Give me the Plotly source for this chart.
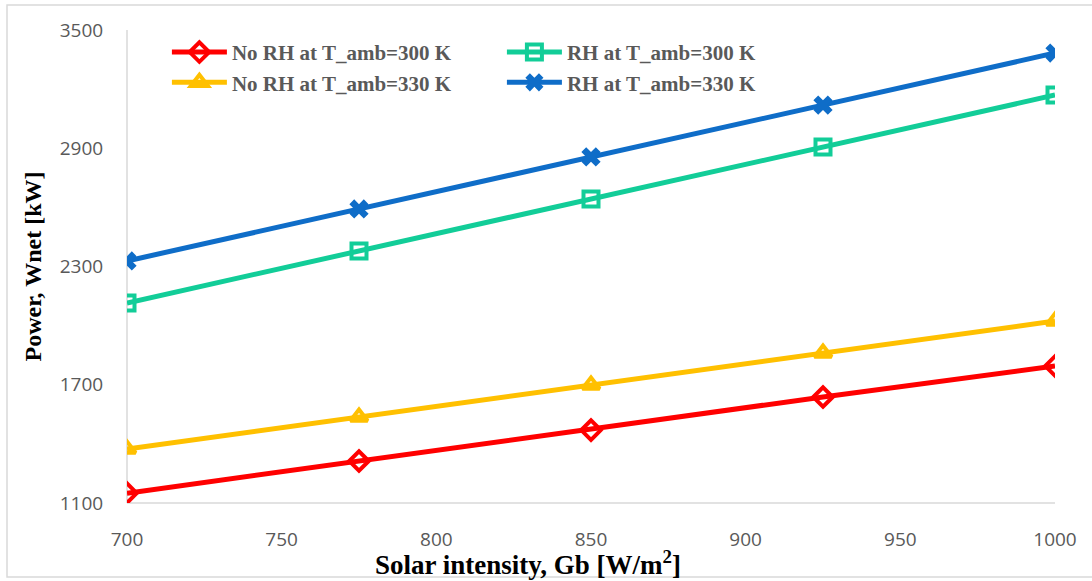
import plotly.graph_objects as go

# Solar intensity (W/m2) and net power (kW) for each configuration
solar_intensity = [700, 775, 850, 925, 1000]
no_rh_300 = [1150, 1313, 1470, 1638, 1795]
rh_300 = [2115, 2379, 2642, 2906, 3170]
no_rh_330 = [1374, 1536, 1699, 1861, 2023]
rh_330 = [2328, 2592, 2856, 3119, 3383]

y_ticks = [1100, 1700, 2300, 2900, 3500]
x_ticks = [700, 750, 800, 850, 900, 950, 1000]

fig = go.Figure()

series = [
    ("No RH at T_amb=300 K", no_rh_300, "#FF0000", "diamond-open", 15, "legend"),
    ("No RH at T_amb=330 K", no_rh_330, "#FFC000", "triangle-up-open", 15, "legend"),
    ("RH at T_amb=300 K", rh_300, "#12CD98", "square-open", 15, "legend2"),
    ("RH at T_amb=330 K", rh_330, "#0F6DC8", "x", 17, "legend2"),
]

for name, vals, color, symbol, size, leg in series:
    fig.add_trace(go.Scatter(
        x=solar_intensity, y=vals, name="<b>" + name + "</b>", mode="lines+markers",
        line=dict(color=color, width=5),
        marker=dict(symbol=symbol, size=size, color=color,
                    line=dict(color=color, width=4 if symbol != "x" else 0)),
        legend=leg,
    ))

legend_font = dict(family="Liberation Serif", size=21, color="#595959")

fig.update_layout(
    width=1092, height=581,
    margin=dict(l=127, r=37, t=30, b=78),
    paper_bgcolor="white", plot_bgcolor="white",
    legend=dict(x=0.043, y=0.996, xanchor="left", yanchor="top",
                font=legend_font, bgcolor="rgba(0,0,0,0)",
                tracegroupgap=0, itemwidth=55),
    legend2=dict(x=0.404, y=0.996, xanchor="left", yanchor="top",
                 font=legend_font, bgcolor="rgba(0,0,0,0)",
                 tracegroupgap=0, itemwidth=55),
    xaxis=dict(
        range=[700, 1000], tickvals=x_ticks, showgrid=False,
        showline=False, zeroline=False,
        ticks="outside", ticklen=19, tickcolor="rgba(0,0,0,0)",
        tickfont=dict(family="Open Sans", size=19, color="#595959"),
    ),
    yaxis=dict(
        range=[1100, 3500], tickvals=y_ticks, showgrid=False,
        showline=False, zeroline=False,
        ticks="outside", ticklen=19, tickcolor="rgba(0,0,0,0)",
        tickfont=dict(family="Open Sans", size=19, color="#595959"),
        title=dict(text="<b>Power, Wnet [kW]</b>",
                   font=dict(family="Liberation Serif", size=24, color="black"),
                   standoff=11),
    ),
)

# X-axis title
fig.add_annotation(
    text="<b>Solar intensity, Gb [W/m<sup>2</sup>]</b>",
    xref="paper", yref="paper", x=0.432, y=-0.127,
    xanchor="center", yanchor="middle", showarrow=False,
    font=dict(family="Liberation Serif", size=27, color="black"),
)

# Light axis lines along the bottom and left of the plot area
fig.add_shape(type="line", xref="paper", yref="paper", x0=0, x1=1, y0=0, y1=0,
              line=dict(color="#D9D9D9", width=1.5), layer="below")
fig.add_shape(type="line", xref="paper", yref="paper", x0=0, x1=0, y0=0, y1=1,
              line=dict(color="#D9D9D9", width=1.5), layer="below")

# Chart-area border
fig.add_shape(type="rect", xref="paper", yref="paper",
              x0=-0.1293, x1=1.06, y0=-0.1564, y1=1.053,
              line=dict(color="#D9D9D9", width=1.5), layer="below")

fig.write_html("out.html")
